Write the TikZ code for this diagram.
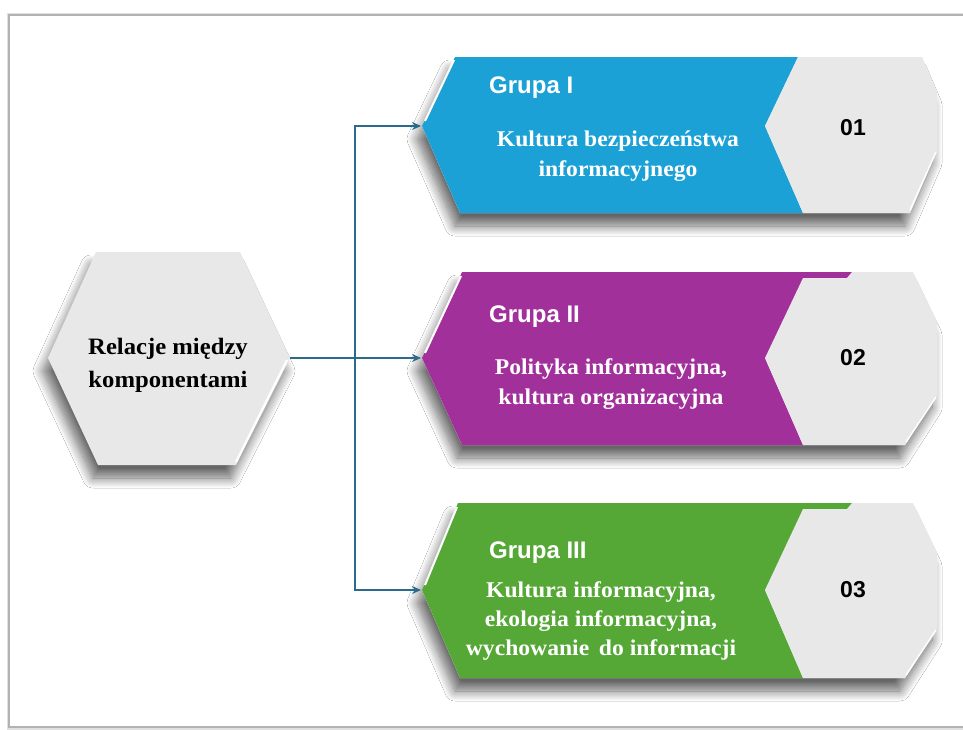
\documentclass[tikz,border=0pt]{standalone}
\usepackage{fontspec}
\setmainfont{Liberation Serif}[FakeStretch=1.05]
\newfontfamily\arialb{Liberation Sans}
\usetikzlibrary{arrows.meta,shadows.blur}
\definecolor{cblue}{HTML}{1BA1D6}
\definecolor{cpurple}{HTML}{A2309B}
\definecolor{cgreen}{HTML}{55A836}
\definecolor{cgray}{HTML}{E8E8E8}
\definecolor{cline}{HTML}{2B6A8A}
\tikzset{
  shp/.style={blur shadow={shadow xshift=-5pt, shadow yshift=-13pt, shadow blur radius=10pt, shadow opacity=60, shadow blur steps=14}},
  hl/.style={white, line width=2.2pt},
  conn/.style={cline, line width=1.6pt},
  arr/.style={conn, -{Stealth[length=9pt,width=8pt]}},
  grp/.style={text=white, font=\fontsize{24}{28}\selectfont\bfseries\arialb, anchor=base west, inner sep=0pt},
  desc/.style={text=white, font=\fontsize{22.5}{30}\selectfont\bfseries, align=center, anchor=base, inner sep=0pt},
  num/.style={text=black, font=\fontsize{23}{28}\selectfont\bfseries\arialb, inner sep=0pt},
}
\begin{document}
\begin{tikzpicture}[x=1pt,y=-1pt]
\useasboundingbox (0,0) rectangle (963,729);
\clip (0,0) rectangle (963,729);
\fill[white] (0,0) rectangle (963,729);
% frame
\draw[black!12, line width=3pt] (8,14) rectangle (990,728);
\draw[gray!60, line width=1.2pt] (9,15) rectangle (990,727);

% left hexagon
\path[fill=cgray, shp] (48,358) -- (96,252) -- (240,252) -- (290,358) -- (236,465) -- (98,465) -- cycle;
\draw[hl] (287,360) -- (236,462);
\node[text=black, font=\fontsize{23.5}{33}\selectfont\bfseries, align=center, anchor=base, inner sep=0pt] (rel) at (168,387) {Relacje między\\komponentami};
\coordinate (hexR) at (290,358);

% band 1
\path[fill=white, shp] (422,126) -- (455,57) -- (922,57) -- (937,92) -- (937,150) -- (910,213) -- (460,213) -- cycle;
\path[fill=cblue] (422,126) -- (455,57) -- (798,57) -- (765,126) -- (803,213) -- (460,213) -- cycle;
\path[fill=cgray] (765,126) -- (798,57) -- (922,57) -- (937,92) -- (937,150) -- (910,213) -- (803,213) -- cycle;
\draw[hl, line width=2pt] (425,121) -- (454,60);
\draw[hl, line width=1.5pt] (936,152) -- (910,210);
\node[grp] (g1) at (489,93) {Grupa I};
\node[desc] (d1) at (618,176) {Kultura bezpieczeństwa\\informacyjnego};
\node[num] (n1) at (853,128) {01};
\coordinate (t1) at (421,126);

% band 2
\path[fill=white, shp] (422,358) -- (462,272) -- (913,272) -- (937,322) -- (937,395) -- (905,445) -- (462,445) -- cycle;
\path[fill=cpurple] (422,358) -- (462,272) -- (852,272) -- (850,285) -- (765,358) -- (803,445) -- (462,445) -- cycle;
\path[fill=cgray] (765,358) -- (803,278) -- (847,278) -- (852,272) -- (913,272) -- (937,322) -- (937,395) -- (905,445) -- (803,445) -- cycle;
\draw[hl, line width=2pt] (425,353) -- (461,276);
\draw[hl, line width=1.5pt] (936,397) -- (906,442);
\node[grp] (g2) at (489,322) {Grupa II};
\node[desc] (d2) at (611,404) {Polityka informacyjna,\\kultura organizacyjna};
\node[num] (n2) at (853,358) {02};
\coordinate (t2) at (421,358);

% band 3
\path[fill=white, shp] (422,590) -- (458,503) -- (913,503) -- (937,553) -- (937,628) -- (905,678) -- (460,678) -- cycle;
\path[fill=cgreen] (422,590) -- (458,503) -- (852,503) -- (850,516) -- (765,590) -- (803,678) -- (460,678) -- cycle;
\path[fill=cgray] (765,590) -- (803,509) -- (847,509) -- (852,503) -- (913,503) -- (937,553) -- (937,628) -- (905,678) -- (803,678) -- cycle;
\draw[hl, line width=2pt] (425,585) -- (457,507);
\draw[hl, line width=1.5pt] (936,630) -- (906,675);
\node[grp] (g3) at (489,558) {Grupa III};
\node[desc, font=\fontsize{22.5}{29}\selectfont\bfseries] (d3) at (601,655) {Kultura informacyjna,\\ekologia informacyjna,\\wychowanie\, do informacji};
\node[num] (n3) at (853,590) {03};
\coordinate (t3) at (421,590);

% connectors
\coordinate (j) at (355,358);
\draw[conn] (hexR) -- (j);
\draw[arr] (j) |- (t1);
\draw[arr] (j) -- (t2);
\draw[arr] (j) |- (t3);
\end{tikzpicture}
\end{document}
